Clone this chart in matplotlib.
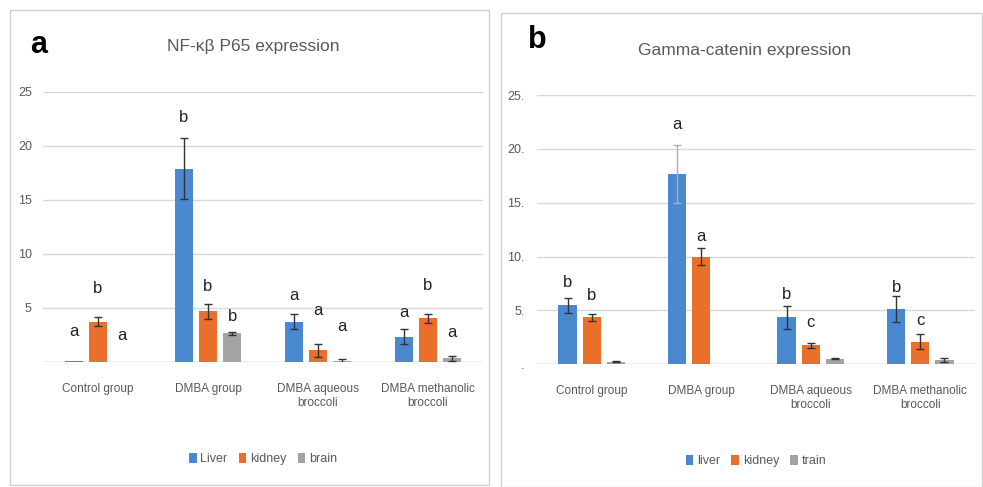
import numpy as np
import matplotlib
matplotlib.use('Agg')
import matplotlib.pyplot as plt
from matplotlib.patches import Rectangle

plt.rcParams['font.family'] = ['Liberation Sans', 'DejaVu Sans']

groups = ['Control group', 'DMBA group', 'DMBA aqueous\nbroccoli', 'DMBA methanolic\nbroccoli']

# panel a: NF-kB P65
a_liver = [0.1, 17.9, 3.75, 2.35]
a_liver_err = [0.0, 2.8, 0.7, 0.7]
a_kidney = [3.75, 4.7, 1.1, 4.05]
a_kidney_err = [0.4, 0.7, 0.6, 0.4]
a_brain = [0.0, 2.65, 0.05, 0.35]
a_brain_err = [0.0, 0.15, 0.2, 0.25]
a_letters = [['a', 'b', 'a'], ['b', 'b', 'b'], ['a', 'a', 'a'], ['a', 'b', 'a']]
a_letter_y = [[2.8, 6.8, 2.5], [22.6, 7.0, 4.2], [6.2, 4.8, 3.3], [4.6, 7.1, 2.7]]

# panel b: gamma-catenin
b_liver = [5.5, 17.65, 4.35, 5.15]
b_liver_err = [0.7, 2.7, 1.05, 1.2]
b_kidney = [4.35, 10.0, 1.75, 2.1]
b_kidney_err = [0.3, 0.8, 0.2, 0.7]
b_brain = [0.25, 0.0, 0.5, 0.4]
b_brain_err = [0.05, 0.0, 0.05, 0.15]
b_letters = [['b', 'b', ''], ['a', 'a', ''], ['b', 'c', ''], ['b', 'c', '']]
b_letter_y = [[7.6, 6.35, 0], [22.3, 11.85, 0], [6.5, 3.85, 0], [7.15, 4.1, 0]]

colors = ['#4a88d0', '#ea6f2b', '#a3a3a3']
text_grey = '#595959'

fig = plt.figure(figsize=(9.83, 4.87), dpi=100)

# panel frames
fig.patches.append(Rectangle((10 / 983, 2 / 487), 479 / 983, 475 / 487, transform=fig.transFigure,
                             fill=False, edgecolor='#d0d0d0', lw=1))
fig.patches.append(Rectangle((501 / 983, 0), 481 / 983, 474 / 487, transform=fig.transFigure,
                             fill=False, edgecolor='#d0d0d0', lw=1))


def draw_panel(rect, series, errs, letters, letter_y, names, ticklabels, title, tag, tag_xy, title_xy,
               leg_y, ypad):
    ax = fig.add_axes(rect)
    x = np.arange(len(groups))
    step, width = 0.22, 0.168
    for j, (vals, err) in enumerate(zip(series, errs)):
        xs = x + (j - 1) * step
        ax.bar(xs, vals, width, color=colors[j], label=names[j], zorder=3)
        for k in range(len(x)):
            if err[k] > 0:
                ecol = '#b0b0b0' if (j == 0 and err[k] > 2.5 and tag == 'b') else '#333333'
                ax.errorbar(xs[k], vals[k], yerr=err[k], color=ecol, capsize=3, lw=1, capthick=1, zorder=4)
    for k in range(len(x)):
        for j in range(3):
            if letters[k][j]:
                ax.text(x[k] + (j - 1) * step, letter_y[k][j], letters[k][j], ha='center', va='center',
                        fontsize=12, color='#222222')
    ax.set_xlim(-0.5, 3.5)
    ax.set_ylim(0, 25)
    ax.set_yticks([0, 5, 10, 15, 20, 25])
    ax.set_yticklabels(ticklabels, color=text_grey, fontsize=9)
    ax.set_xticks(x)
    ax.set_xticklabels(groups, color=text_grey, fontsize=8.5)
    ax.tick_params(axis='x', length=0, pad=15)
    ax.tick_params(axis='y', length=0, pad=ypad)
    ax.grid(axis='y', color='#d9d9d9', lw=1, zorder=0)
    for s in ax.spines.values():
        s.set_visible(False)
    ax.axhline(0, color='#d0d0d0', lw=1, zorder=2)
    fig.text(title_xy[0] / 983, 1 - title_xy[1] / 487, title, ha='center', va='center', fontsize=12.5,
             color=text_grey)
    fig.text(tag_xy[0] / 983, 1 - tag_xy[1] / 487, tag, ha='center', va='center', fontsize=22,
             fontweight='bold', color='black')
    ax.legend(loc='center', bbox_to_anchor=(0.5, leg_y), ncol=3, frameon=False, fontsize=9,
              handlelength=0.6, handleheight=0.9, handletextpad=0.3, columnspacing=0.9,
              labelcolor=text_grey)
    return ax


draw_panel([43 / 983, 125 / 487, 440 / 983, 270 / 487],
           [a_liver, a_kidney, a_brain], [a_liver_err, a_kidney_err, a_brain_err],
           a_letters, a_letter_y, ['Liver', 'kidney', 'brain'],
           ['', '5', '10', '15', '20', '25'],
           'NF-κβ P65 expression', 'a', (39, 45), (253, 47), -0.36, 8)

draw_panel([537 / 983, 122.7 / 487, 438 / 983, 269.3 / 487],
           [b_liver, b_kidney, b_brain], [b_liver_err, b_kidney_err, b_brain_err],
           b_letters, b_letter_y, ['liver', 'kidney', 'train'],
           ['.', '5.', '10.', '15.', '20.', '25.'],
           'Gamma-catenin expression', 'b', (537, 40), (745, 50), -0.36, 9)

fig.savefig('out.png', dpi=100)
